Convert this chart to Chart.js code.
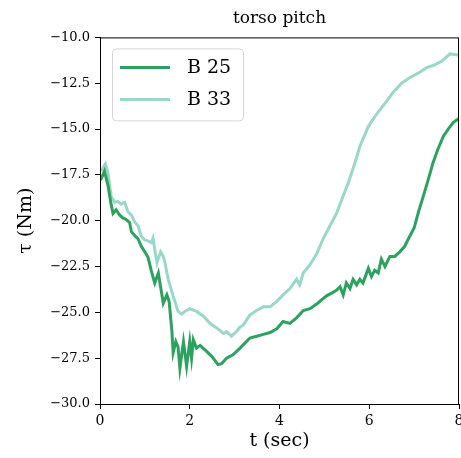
<!DOCTYPE html>
<html>
<head>
<meta charset="utf-8">
<script src="https://cdn.jsdelivr.net/npm/chart.js@4"></script>
<style>
  html, body { margin: 0; padding: 0; background: #fff; }
  #wrap { width: 461px; height: 458px; }
</style>
</head>
<body>
<div id="wrap"><canvas id="torsoChart" width="461" height="458"></canvas></div>
<script>
const seriesNames = ['B 25', 'B 33'];

const b25Time = [0.00, 0.03, 0.10, 0.18, 0.24, 0.29, 0.36, 0.44, 0.51, 0.59, 0.66, 0.70, 0.77, 0.85, 0.92,
    1.00, 1.07, 1.15, 1.22, 1.30, 1.41, 1.49, 1.54, 1.60, 1.63, 1.69, 1.74, 1.78, 1.86, 1.93, 2.00, 2.04,
    2.08, 2.15, 2.23, 2.34, 2.49, 2.63, 2.71, 2.82, 2.97, 3.12, 3.34, 3.49, 3.64, 3.79, 3.94, 4.08, 4.23,
    4.38, 4.53, 4.68, 4.85, 5.05, 5.16, 5.27, 5.35, 5.42, 5.49, 5.57, 5.64, 5.72, 5.79, 5.86, 5.98, 6.05,
    6.12, 6.20, 6.27, 6.35, 6.46, 6.57, 6.68, 6.79, 6.87, 7.00, 7.10, 7.20, 7.31, 7.42, 7.53, 7.65, 7.76,
    7.87, 7.98, 8.00];
const b25Torque = [-17.8, -17.7, -17.3, -18.1, -19.0, -19.6, -19.4, -19.7, -19.85, -19.95, -20.1, -20.6, -20.8, -21.0, -21.4,
    -21.7, -22.0, -22.8, -23.4, -22.85, -24.5, -24.05, -24.4, -25.95, -27.2, -26.6, -26.9, -28.05, -26.6, -27.95, -26.6, -27.5,
    -26.5, -26.95, -26.8, -27.05, -27.4, -27.85, -27.8, -27.5, -27.3, -26.95, -26.4, -26.3, -26.2, -26.1, -25.9, -25.5, -25.6,
    -25.3, -24.9, -24.8, -24.5, -24.1, -23.95, -23.8, -23.6, -24.05, -23.4, -23.7, -23.2, -23.5, -23.2, -23.4, -22.6, -23.05,
    -22.7, -22.85, -22.1, -22.5, -21.95, -21.95, -21.7, -21.4, -21.0, -20.4, -19.5, -18.7, -17.8, -16.85, -16.1, -15.4, -15.0,
    -14.65, -14.45, -14.45];

const b33Time = [0.02, 0.07, 0.12, 0.18, 0.25, 0.33, 0.40, 0.47, 0.55, 0.62, 0.70, 0.77, 0.85, 0.92, 1.00,
    1.07, 1.14, 1.18, 1.23, 1.27, 1.35, 1.41, 1.44, 1.52, 1.63, 1.74, 1.82, 1.89, 2.00, 2.15, 2.30, 2.45,
    2.63, 2.75, 2.82, 2.93, 3.04, 3.12, 3.19, 3.34, 3.49, 3.64, 3.79, 3.94, 4.08, 4.23, 4.38, 4.45, 4.53,
    4.68, 4.83, 4.97, 5.12, 5.27, 5.38, 5.53, 5.68, 5.79, 5.98, 6.16, 6.35, 6.53, 6.72, 6.90, 7.09, 7.28,
    7.46, 7.61, 7.80, 7.95, 8.00];
const b33Torque = [-17.3, -17.1, -16.9, -17.4, -18.7, -19.0, -18.95, -19.1, -19.0, -19.5, -19.7, -20.05, -20.3, -20.85, -21.05,
    -21.1, -21.2, -20.95, -21.7, -22.3, -21.7, -21.95, -22.2, -23.2, -24.1, -24.95, -25.1, -24.95, -24.8, -24.95, -25.2, -25.6,
    -25.9, -26.15, -26.05, -26.3, -26.05, -25.8, -25.7, -25.15, -24.9, -24.7, -24.7, -24.4, -24.05, -23.7, -23.2, -23.5, -22.85,
    -22.4, -21.8, -21.0, -20.3, -19.6, -18.9, -17.95, -16.85, -15.95, -14.85, -14.2, -13.6, -13.0, -12.5, -12.2, -11.95, -11.65,
    -11.5, -11.3, -10.9, -10.95, -11.0];

const xTicks = [0, 2, 4, 6, 8];
const yTicks = [-30, -27.5, -25, -22.5, -20, -17.5, -15, -12.5, -10];

const serif = "'DejaVu Serif', 'Liberation Serif', serif";

function toPoints(xs, ys) {
    return xs.map((x, i) => ({ x: x, y: ys[i] }));
}

function fmtNum(v, digits) {
    const s = Math.abs(v).toFixed(digits);
    return v < 0 ? '\u2212' + s : s;
}

// top/right spines + boxed legend in the upper left, matplotlib style
const framePlugin = {
    id: 'frame',
    afterDatasetsDraw(chart) {
        const ctx = chart.ctx;
        const a = chart.chartArea;
        ctx.save();
        ctx.strokeStyle = '#000';
        ctx.lineWidth = 1;
        ctx.strokeRect(a.left + 0.5, a.top + 0.5, a.right - a.left - 1, a.bottom - a.top);

        // legend box
        const bx = a.left + 12, by = a.top + 11, bw = 131, bh = 72;
        ctx.fillStyle = 'rgba(255,255,255,0.8)';
        ctx.strokeStyle = '#d6d6d6';
        ctx.beginPath();
        ctx.roundRect(bx + 0.5, by + 0.5, bw, bh, 4);
        ctx.fill();
        ctx.stroke();

        ctx.font = '19px ' + serif;
        ctx.textBaseline = 'middle';
        chart.data.datasets.forEach((ds, i) => {
            const y = by + 19 + i * 32;
            ctx.strokeStyle = ds.borderColor;
            ctx.lineWidth = 3;
            ctx.beginPath();
            ctx.moveTo(bx + 8, y);
            ctx.lineTo(bx + 58, y);
            ctx.stroke();
            ctx.fillStyle = '#000';
            ctx.fillText(ds.label, bx + 75, y + 1);
        });
        ctx.restore();
    }
};

const ctx = document.getElementById('torsoChart').getContext('2d');
new Chart(ctx, {
    type: 'line',
    data: {
        datasets: [{
            label: seriesNames[0],
            data: toPoints(b25Time, b25Torque),
            borderColor: '#2ca25f',
            borderWidth: 3,
            pointRadius: 0,
            tension: 0
        }, {
            label: seriesNames[1],
            data: toPoints(b33Time, b33Torque),
            borderColor: '#99d8c9',
            borderWidth: 3,
            pointRadius: 0,
            tension: 0
        }]
    },
    options: {
        responsive: false,
        animation: false,
        layout: { padding: { left: 0, right: 2, top: 0, bottom: 0 } },
        plugins: {
            legend: { display: false },
            tooltip: { enabled: false },
            title: {
                display: true,
                fullSize: false,
                text: 'torso pitch',
                color: '#000',
                font: { family: serif, size: 17, weight: 'normal' },
                padding: { top: 8, bottom: 9 }
            }
        },
        scales: {
            x: {
                type: 'linear',
                min: 0,
                max: 8,
                afterBuildTicks(scale) { scale.ticks = xTicks.map(v => ({ value: v })); },
                afterFit(scale) { scale.height = 54; scale.paddingRight = 0; scale.paddingLeft = 0; },
                grid: { drawOnChartArea: false, drawTicks: true, tickLength: 5, tickColor: '#000' },
                border: { color: '#000', width: 1 },
                ticks: {
                    color: '#000',
                    font: { family: serif, size: 14 },
                    padding: 4,
                    maxRotation: 0,
                    callback: v => String(v)
                },
                title: {
                    display: true,
                    text: 't (sec)',
                    color: '#000',
                    font: { family: serif, size: 19 },
                    padding: { top: 0, bottom: 6 }
                }
            },
            y: {
                type: 'linear',
                min: -30,
                max: -10,
                afterBuildTicks(scale) { scale.ticks = yTicks.map(v => ({ value: v })); },
                afterFit(scale) { scale.width = 100; scale.paddingTop = 0; scale.paddingBottom = 0; },
                grid: { drawOnChartArea: false, drawTicks: true, tickLength: 5, tickColor: '#000' },
                border: { color: '#000', width: 1 },
                ticks: {
                    color: '#000',
                    font: { family: serif, size: 13 },
                    padding: 5,
                    callback: v => fmtNum(v, 1)
                },
                title: {
                    display: true,
                    text: '\u03c4 (Nm)',
                    color: '#000',
                    font: { family: serif, size: 19 },
                    padding: { top: 15, bottom: 0 }
                }
            }
        }
    },
    plugins: [framePlugin]
});
</script>
</body>
</html>
